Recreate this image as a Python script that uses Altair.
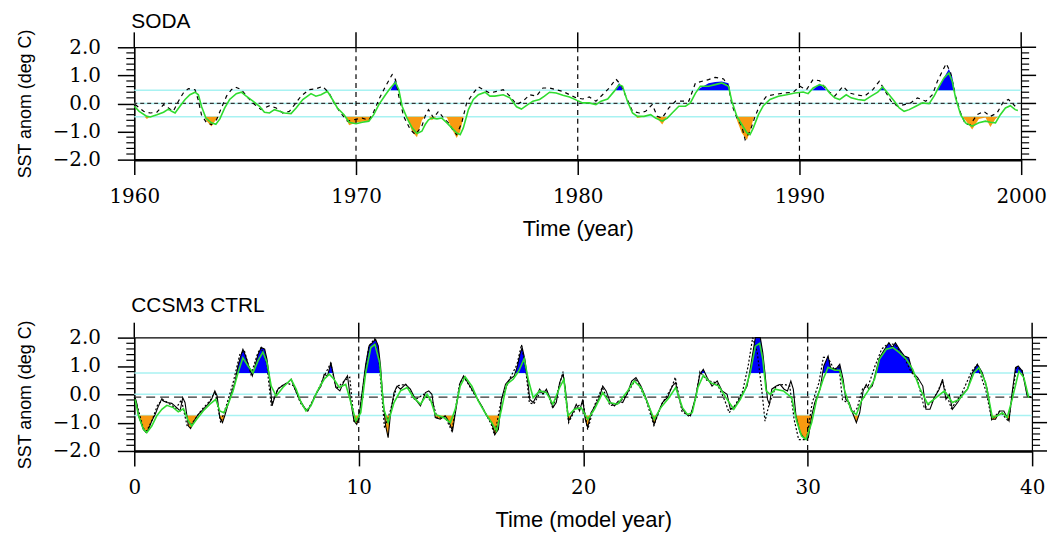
import altair as alt
import pandas as pd

# ---------------- SODA (top panel) ----------------
soda_green = [
    (1960.00, -0.10), (1960.22, -0.28), (1960.57, -0.46), (1960.72, -0.48), (1961.02, -0.40),
    (1961.32, -0.31), (1961.54, -0.20), (1961.69, -0.28), (1961.84, -0.34), (1962.06, -0.10),
    (1962.29, 0.14), (1962.51, 0.31), (1962.74, 0.40), (1962.89, 0.31), (1963.03, -0.10),
    (1963.23, -0.52), (1963.48, -0.69), (1963.68, -0.74), (1963.86, -0.55), (1964.08, -0.16),
    (1964.30, 0.14), (1964.60, 0.35), (1964.83, 0.40), (1965.05, 0.26), (1965.35, 0.08),
    (1965.65, -0.10), (1965.87, -0.31), (1966.10, -0.34), (1966.32, -0.22), (1966.55, -0.28),
    (1966.77, -0.34), (1967.07, -0.36), (1967.30, -0.16), (1967.60, 0.14), (1967.97, 0.35),
    (1968.19, 0.26), (1968.42, 0.31), (1968.71, 0.43), (1968.94, 0.14), (1969.16, -0.16),
    (1969.46, -0.40), (1969.69, -0.67), (1970.00, -0.72), (1970.28, -0.67), (1970.58, -0.63),
    (1970.80, -0.40), (1971.03, -0.04), (1971.33, 0.31), (1971.55, 0.55), (1971.78, 0.75),
    (1971.93, 0.49), (1972.08, -0.10), (1972.30, -0.52), (1972.53, -0.87), (1972.75, -1.07),
    (1972.97, -0.99), (1973.12, -0.75), (1973.27, -0.58), (1973.42, -0.52), (1973.65, -0.55),
    (1973.87, -0.52), (1974.10, -0.69), (1974.32, -0.87), (1974.54, -1.05), (1974.70, -1.11),
    (1974.84, -0.87), (1975.07, -0.22), (1975.29, 0.14), (1975.52, 0.31), (1975.82, 0.40),
    (1976.04, 0.26), (1976.26, 0.26), (1976.64, 0.31), (1976.94, 0.20), (1977.24, -0.12),
    (1977.46, -0.20), (1977.68, -0.08), (1977.98, 0.08), (1978.28, 0.14), (1978.50, 0.26),
    (1978.73, 0.40), (1979.03, 0.37), (1979.33, 0.29), (1979.63, 0.23), (1979.97, 0.11),
    (1980.22, 0.02), (1980.52, 0.02), (1980.82, -0.04), (1981.05, 0.08), (1981.35, 0.16),
    (1981.64, 0.43), (1981.87, 0.67), (1982.02, 0.61), (1982.24, 0.08), (1982.47, -0.34),
    (1982.69, -0.46), (1982.99, -0.46), (1983.29, -0.40), (1983.51, -0.52), (1983.81, -0.63),
    (1984.04, -0.52), (1984.26, -0.34), (1984.56, -0.10), (1984.86, -0.10), (1985.08, 0.02),
    (1985.31, 0.37), (1985.53, 0.61), (1985.90, 0.61), (1986.20, 0.67), (1986.50, 0.73),
    (1986.80, 0.61), (1986.95, 0.08), (1987.18, -0.46), (1987.40, -0.75), (1987.63, -1.05),
    (1987.77, -1.11), (1987.92, -0.87), (1988.15, -0.40), (1988.37, -0.08), (1988.67, 0.14),
    (1989.05, 0.26), (1989.42, 0.31), (1989.79, 0.37), (1990.17, 0.41), (1990.39, 0.35),
    (1990.62, 0.55), (1990.91, 0.67), (1991.14, 0.61), (1991.36, 0.37), (1991.59, 0.20),
    (1991.81, 0.14), (1992.11, 0.31), (1992.33, 0.20), (1992.63, 0.14), (1992.93, 0.11),
    (1993.23, 0.26), (1993.53, 0.40), (1993.75, 0.59), (1993.98, 0.37), (1994.28, 0.08),
    (1994.50, -0.16), (1994.72, -0.28), (1994.95, -0.22), (1995.25, -0.10), (1995.55, 0.02),
    (1995.85, -0.01), (1996.07, 0.26), (1996.30, 0.61), (1996.52, 0.91), (1996.74, 1.09),
    (1996.89, 0.79), (1997.04, 0.20), (1997.27, -0.40), (1997.49, -0.69), (1997.79, -0.81),
    (1998.09, -0.69), (1998.39, -0.63), (1998.61, -0.67), (1998.84, -0.69), (1999.06, -0.40),
    (1999.29, -0.16), (1999.51, -0.08), (1999.73, -0.22), (1999.85, -0.25),
]

soda_raw = [
    (1960.00, -0.10), (1960.22, -0.28), (1960.57, -0.55), (1960.72, -0.45), (1961.02, -0.40),
    (1961.32, -0.31), (1961.54, -0.20), (1961.69, -0.28), (1961.84, -0.34), (1962.06, -0.10),
    (1962.29, 0.14), (1962.51, 0.31), (1962.74, 0.40), (1962.89, 0.31), (1963.03, -0.10),
    (1963.23, -0.60), (1963.48, -0.82), (1963.68, -0.58), (1963.86, -0.45), (1964.08, -0.16),
    (1964.30, 0.14), (1964.60, 0.35), (1964.83, 0.40), (1965.05, 0.26), (1965.35, 0.08),
    (1965.65, -0.10), (1965.87, -0.31), (1966.10, -0.34), (1966.32, -0.22), (1966.55, -0.28),
    (1966.77, -0.34), (1967.07, -0.36), (1967.30, -0.16), (1967.60, 0.14), (1967.97, 0.35),
    (1968.19, 0.26), (1968.42, 0.31), (1968.71, 0.43), (1968.94, 0.14), (1969.16, -0.16),
    (1969.46, -0.40), (1969.69, -0.78), (1970.00, -0.68), (1970.28, -0.65), (1970.58, -0.63),
    (1970.80, -0.40), (1971.03, -0.04), (1971.33, 0.31), (1971.55, 0.45), (1971.78, 0.87),
    (1971.93, 0.45), (1972.08, -0.10), (1972.30, -0.50), (1972.53, -1.00), (1972.75, -1.20),
    (1972.97, -0.60), (1973.12, -0.45), (1973.27, -0.45), (1973.42, -0.60), (1973.65, -0.45),
    (1973.87, -0.45), (1974.10, -0.50), (1974.32, -0.90), (1974.54, -1.23), (1974.70, -1.00),
    (1974.84, -0.50), (1975.07, -0.22), (1975.29, 0.14), (1975.52, 0.31), (1975.82, 0.40),
    (1976.04, 0.26), (1976.26, 0.26), (1976.64, 0.31), (1976.94, 0.20), (1977.24, -0.12),
    (1977.46, -0.20), (1977.68, -0.08), (1977.98, 0.08), (1978.28, 0.14), (1978.50, 0.26),
    (1978.73, 0.40), (1979.03, 0.37), (1979.33, 0.29), (1979.63, 0.23), (1979.97, 0.11),
    (1980.22, 0.02), (1980.52, 0.02), (1980.82, -0.04), (1981.05, 0.08), (1981.35, 0.16),
    (1981.64, 0.43), (1981.87, 0.73), (1982.02, 0.50), (1982.24, 0.08), (1982.47, -0.34),
    (1982.69, -0.52), (1982.99, -0.46), (1983.29, -0.40), (1983.51, -0.45), (1983.81, -0.75),
    (1984.04, -0.45), (1984.26, -0.34), (1984.56, -0.10), (1984.86, -0.10), (1985.08, 0.02),
    (1985.31, 0.37), (1985.53, 0.55), (1985.90, 0.72), (1986.20, 0.76), (1986.50, 0.78),
    (1986.80, 0.72), (1986.95, 0.20), (1987.18, -0.60), (1987.40, -1.05), (1987.63, -1.30),
    (1987.77, -1.00), (1987.92, -0.55), (1988.15, -0.30), (1988.37, -0.08), (1988.67, 0.14),
    (1989.05, 0.26), (1989.42, 0.31), (1989.79, 0.37), (1990.17, 0.41), (1990.39, 0.35),
    (1990.62, 0.50), (1990.91, 0.70), (1991.14, 0.52), (1991.36, 0.37), (1991.59, 0.20),
    (1991.81, 0.14), (1992.11, 0.31), (1992.33, 0.20), (1992.63, 0.14), (1992.93, 0.11),
    (1993.23, 0.26), (1993.53, 0.40), (1993.75, 0.62), (1993.98, 0.37), (1994.28, 0.08),
    (1994.50, -0.16), (1994.72, -0.28), (1994.95, -0.22), (1995.25, -0.10), (1995.55, 0.02),
    (1995.85, -0.01), (1996.07, 0.26), (1996.30, 0.62), (1996.52, 0.92), (1996.74, 1.23),
    (1996.89, 0.95), (1997.04, 0.30), (1997.27, -0.40), (1997.49, -0.60), (1997.79, -0.93),
    (1998.09, -0.55), (1998.39, -0.50), (1998.61, -0.84), (1998.84, -0.55), (1999.06, -0.40),
    (1999.29, -0.16), (1999.51, -0.08), (1999.73, -0.22), (1999.85, -0.25),
]

soda_dotted = [
    (1960.04, -0.04), (1960.42, -0.28), (1960.72, -0.34), (1961.02, -0.31), (1961.32, -0.04),
    (1961.54, -0.16), (1961.76, -0.28), (1961.99, 0.08), (1962.21, 0.37), (1962.44, 0.53),
    (1962.74, 0.49), (1962.88, 0.14), (1963.03, -0.40), (1963.26, -0.69), (1963.48, -0.75),
    (1963.71, -0.58), (1963.93, -0.16), (1964.16, 0.26), (1964.38, 0.49), (1964.57, 0.58),
    (1964.83, 0.49), (1965.13, 0.20), (1965.43, -0.04), (1965.72, -0.22), (1966.10, -0.08),
    (1966.40, -0.16), (1966.70, -0.34), (1967.00, -0.28), (1967.29, 0.02), (1967.52, 0.26),
    (1967.89, 0.49), (1968.19, 0.52), (1968.49, 0.61), (1968.79, 0.37), (1969.01, 0.02),
    (1969.31, -0.34), (1969.61, -0.63), (1969.91, -0.58), (1970.28, -0.52), (1970.58, -0.60),
    (1970.81, -0.28), (1971.03, 0.14), (1971.33, 0.61), (1971.63, 1.03), (1971.78, 0.85),
    (1971.93, 0.26), (1972.15, -0.46), (1972.45, -0.93), (1972.68, -1.11), (1972.97, -0.81),
    (1973.12, -0.45), (1973.27, -0.22), (1973.50, -0.52), (1973.72, -0.28), (1973.95, -0.52),
    (1974.17, -0.69), (1974.40, -0.99), (1974.54, -1.11), (1974.77, -0.69), (1974.99, 0.02),
    (1975.29, 0.37), (1975.52, 0.59), (1975.74, 0.49), (1976.04, 0.37), (1976.34, 0.43),
    (1976.64, 0.49), (1976.94, 0.26), (1977.24, -0.04), (1977.53, 0.08), (1977.83, 0.31),
    (1978.13, 0.26), (1978.43, 0.55), (1978.73, 0.55), (1979.03, 0.49), (1979.33, 0.43),
    (1979.63, 0.31), (1979.93, 0.20), (1980.22, 0.16), (1980.52, 0.23), (1980.82, 0.08),
    (1981.12, 0.31), (1981.42, 0.55), (1981.72, 0.87), (1981.94, 0.67), (1982.17, 0.26),
    (1982.47, -0.28), (1982.77, -0.34), (1983.06, -0.28), (1983.36, -0.04), (1983.59, -0.46),
    (1983.81, -0.52), (1984.11, -0.16), (1984.41, 0.08), (1984.71, 0.08), (1985.01, 0.08),
    (1985.31, 0.73), (1985.61, 0.79), (1985.90, 0.85), (1986.20, 0.93), (1986.58, 0.87),
    (1986.80, 0.61), (1986.95, -0.04), (1987.18, -0.52), (1987.40, -0.81), (1987.55, -1.29),
    (1987.77, -0.99), (1988.00, -0.46), (1988.22, -0.04), (1988.52, 0.26), (1988.82, 0.31),
    (1989.27, 0.37), (1989.72, 0.40), (1990.02, 0.61), (1990.32, 0.49), (1990.61, 0.85),
    (1990.91, 0.81), (1991.21, 0.49), (1991.59, 0.26), (1991.96, 0.61), (1992.26, 0.37),
    (1992.56, 0.31), (1992.93, 0.26), (1993.31, 0.49), (1993.60, 0.79), (1993.83, 0.49),
    (1994.13, 0.08), (1994.43, -0.10), (1994.73, -0.04), (1995.02, 0.02), (1995.32, 0.20),
    (1995.70, 0.08), (1996.00, 0.31), (1996.22, 0.79), (1996.44, 1.14), (1996.62, 1.42),
    (1996.82, 1.09), (1997.04, 0.26), (1997.27, -0.34), (1997.49, -0.75), (1997.71, -0.75),
    (1998.01, -0.40), (1998.31, -0.28), (1998.61, -0.46), (1998.91, -0.34), (1999.21, 0.08),
    (1999.43, 0.14), (1999.73, -0.10),
]

soda_levels = {"hi": 0.47, "lo": -0.47, "zero": 0.0, "mean": 0.0}

# ---------------- CCSM3 CTRL (bottom panel) ----------------
ccsm_black = [
    (0.04, -0.12), (0.12, -0.35), (0.19, -0.76), (0.27, -0.94), (0.41, -1.24), (0.53, -1.35),
    (0.63, -1.24), (0.78, -0.94), (0.93, -0.71), (1.08, -0.41), (1.23, -0.15), (1.30, -0.24),
    (1.45, -0.29), (1.67, -0.32), (1.89, -0.47), (2.04, -0.59), (2.16, -0.12), (2.26, -0.29),
    (2.41, -1.12), (2.51, -1.21), (2.66, -0.94), (2.85, -0.71), (3.07, -0.53), (3.29, -0.35),
    (3.44, -0.18), (3.59, 0.12), (3.69, -0.06), (3.81, -0.82), (3.93, -1.00), (4.03, -0.76),
    (4.18, -0.35), (4.33, 0.06), (4.48, 0.41), (4.62, 1.00), (4.74, 1.35), (4.84, 1.59),
    (4.96, 1.35), (5.07, 1.06), (5.26, 0.65), (5.36, 0.94), (5.51, 1.41), (5.66, 1.65),
    (5.81, 1.59), (5.91, 1.24), (6.03, 0.53), (6.14, -0.41), (6.25, -0.12), (6.40, 0.18),
    (6.62, 0.32), (6.84, 0.41), (6.99, 0.53), (7.13, 0.24), (7.36, -0.18), (7.58, -0.47),
    (7.73, -0.59), (7.92, -0.29), (8.09, 0.00), (8.32, 0.29), (8.46, 0.71), (8.61, 0.65),
    (8.76, 1.12), (8.86, 0.74), (8.98, 0.24), (9.16, 0.12), (9.35, 0.47), (9.50, 0.65),
    (9.65, -0.29), (9.79, -0.94), (9.91, -1.06), (10.01, -0.82), (10.16, 0.12), (10.31, 1.06),
    (10.46, 1.71), (10.61, 1.82), (10.75, 1.94), (10.87, 1.71), (10.97, 1.00), (11.08, -0.18),
    (11.20, -1.12), (11.31, -1.53), (11.42, -0.65), (11.57, 0.06), (11.71, 0.29), (11.86, 0.18),
    (12.08, 0.35), (12.30, 0.18), (12.53, -0.18), (12.75, -0.41), (12.97, 0.06), (13.12, 0.12),
    (13.26, 0.00), (13.41, -0.82), (13.63, -0.88), (13.85, -0.76), (14.00, -0.94), (14.18, -1.29),
    (14.33, -0.53), (14.52, 0.41), (14.67, 0.65), (14.86, 0.41), (15.04, 0.18), (15.26, -0.12),
    (15.48, -0.41), (15.70, -0.76), (15.92, -1.00), (16.07, -1.41), (16.22, -1.24), (16.36, -0.18),
    (16.54, 0.35), (16.73, 0.53), (16.93, 0.65), (17.07, 1.00), (17.18, 1.41), (17.28, 1.65),
    (17.40, 1.24), (17.52, 0.53), (17.62, -0.18), (17.77, -0.29), (17.92, -0.06), (18.06, 0.18),
    (18.21, 0.00), (18.36, 0.18), (18.51, -0.12), (18.65, -0.47), (18.80, -0.29), (18.95, 0.41),
    (19.10, 0.71), (19.20, 0.24), (19.35, -0.94), (19.50, -0.71), (19.69, -0.35), (19.84, -0.59),
    (19.98, -0.18), (20.09, -0.88), (20.20, -1.18), (20.35, -0.65), (20.57, -0.35), (20.72, -0.12),
    (20.87, 0.29), (21.02, 0.12), (21.21, -0.29), (21.39, -0.41), (21.56, -0.24), (21.76, -0.29),
    (21.98, 0.06), (22.16, 0.47), (22.35, 0.59), (22.57, 0.29), (22.79, -0.12), (22.98, -0.53),
    (23.16, -1.06), (23.34, -0.65), (23.53, -0.29), (23.75, -0.12), (23.97, 0.29), (24.12, 0.41),
    (24.22, 0.00), (24.42, -0.53), (24.61, -0.71), (24.78, -0.76), (25.00, -0.12), (25.20, 0.71),
    (25.35, 0.88), (25.52, 0.59), (25.74, 0.29), (25.97, 0.47), (26.19, 0.12), (26.41, 0.00),
    (26.56, -0.53), (26.78, -0.41), (27.00, -0.12), (27.18, 0.12), (27.30, 0.29), (27.44, 0.88),
    (27.56, 1.47), (27.67, 2.00), (27.89, 2.00), (28.00, 1.47), (28.11, 0.65), (28.21, -0.18),
    (28.30, -0.35), (28.40, 0.18), (28.60, 0.29), (28.77, 0.35), (28.95, 0.18), (29.10, 0.12),
    (29.25, 0.47), (29.36, 0.18), (29.48, -0.76), (29.66, -1.35), (29.88, -1.59), (30.03, -1.53),
    (30.18, -0.76), (30.32, -0.29), (30.55, 0.18), (30.72, 1.00), (30.91, 1.35), (31.02, 0.94),
    (31.17, 0.88), (31.31, 0.94), (31.43, 1.06), (31.58, 0.53), (31.70, -0.18), (31.85, -0.29),
    (32.00, -0.65), (32.17, -1.00), (32.32, -0.65), (32.47, 0.12), (32.61, 0.35), (32.73, 0.18),
    (32.88, 0.29), (33.03, 0.76), (33.20, 1.29), (33.43, 1.59), (33.62, 1.82), (33.77, 1.65),
    (33.91, 1.82), (34.09, 1.59), (34.31, 1.35), (34.50, 1.29), (34.68, 0.76), (34.90, 0.59),
    (35.13, 0.29), (35.27, -0.53), (35.45, -0.53), (35.64, -0.12), (35.86, 0.18), (36.01, 0.53),
    (36.16, -0.18), (36.31, 0.00), (36.45, -0.53), (36.68, -0.29), (36.90, 0.00), (37.12, 0.18),
    (37.34, 0.76), (37.56, 1.06), (37.78, 0.76), (38.00, 0.18), (38.20, -0.88), (38.37, -0.88),
    (38.55, -0.59), (38.74, -0.59), (38.97, -0.94), (39.11, 0.06), (39.26, 0.94), (39.38, 1.00),
    (39.56, 0.82), (39.78, -0.06), (39.97, -0.12),
]

ccsm_green = [
    (0.04, -0.18), (0.19, -0.76), (0.41, -1.24), (0.56, -1.35), (0.78, -1.12), (1.00, -0.76),
    (1.23, -0.53), (1.45, -0.39), (1.74, -0.47), (1.96, -0.62), (2.19, -0.51), (2.41, -0.94),
    (2.56, -1.12), (2.78, -0.88), (3.07, -0.59), (3.37, -0.35), (3.63, -0.18), (3.81, -0.59),
    (3.99, -0.65), (4.18, -0.35), (4.40, 0.12), (4.62, 0.76), (4.84, 1.29), (5.07, 1.00),
    (5.29, 0.76), (5.51, 1.18), (5.73, 1.49), (5.91, 1.12), (6.10, 0.29), (6.32, -0.06),
    (6.62, 0.24), (6.99, 0.53), (7.21, 0.18), (7.43, -0.29), (7.65, -0.59), (7.87, -0.41),
    (8.16, 0.12), (8.46, 0.53), (8.69, 0.71), (8.90, 0.53), (9.13, 0.24), (9.42, 0.35),
    (9.65, -0.29), (9.87, -0.94), (10.09, -0.65), (10.31, 0.76), (10.54, 1.65), (10.72, 1.76),
    (10.93, 1.12), (11.12, -0.53), (11.31, -1.00), (11.57, -0.29), (11.86, 0.12), (12.16, 0.24),
    (12.45, -0.12), (12.75, -0.35), (13.04, 0.00), (13.20, -0.20), (13.41, -0.71), (13.78, -0.82),
    (14.08, -1.00), (14.30, -0.53), (14.52, 0.29), (14.74, 0.62), (15.04, 0.29), (15.33, -0.24),
    (15.63, -0.65), (15.92, -1.00), (16.14, -1.29), (16.36, -0.53), (16.59, 0.35), (16.88, 0.53),
    (17.13, 0.82), (17.37, 1.26), (17.55, 0.53), (17.77, -0.12), (18.06, 0.12), (18.36, 0.06),
    (18.65, -0.35), (18.95, 0.24), (19.14, 0.53), (19.32, -0.76), (19.61, -0.53), (19.91, -0.47),
    (20.20, -0.88), (20.50, -0.53), (20.87, 0.06), (21.16, -0.29), (21.53, -0.35), (21.98, 0.12),
    (22.27, 0.47), (22.57, 0.24), (22.86, -0.29), (23.16, -0.88), (23.46, -0.47), (23.82, -0.12),
    (24.12, 0.24), (24.42, -0.47), (24.64, -0.71), (24.86, -0.65), (25.11, 0.24), (25.35, 0.67),
    (25.67, 0.41), (26.04, 0.29), (26.41, -0.18), (26.71, -0.53), (27.00, -0.18), (27.22, 0.18),
    (27.44, 0.76), (27.67, 1.70), (27.86, 1.80), (28.00, 1.24), (28.15, 0.12), (28.33, 0.00),
    (28.55, 0.18), (28.92, 0.12), (29.29, -0.12), (29.51, -0.94), (29.73, -1.47), (29.93, -1.59),
    (30.18, -1.00), (30.40, -0.18), (30.69, 0.53), (30.91, 0.95), (31.21, 0.85), (31.43, 0.85),
    (31.65, 0.12), (31.95, -0.59), (32.17, -0.71), (32.39, -0.24), (32.69, 0.12), (32.98, 0.53),
    (33.20, 1.24), (33.50, 1.59), (33.80, 1.65), (34.09, 1.47), (34.39, 1.24), (34.68, 0.88),
    (34.98, 0.24), (35.35, -0.35), (35.72, -0.12), (36.09, 0.12), (36.45, -0.29), (36.75, -0.18),
    (37.12, 0.18), (37.41, 0.76), (37.63, 0.94), (37.93, 0.41), (38.23, -0.82), (38.45, -0.76),
    (38.67, -0.65), (38.89, -0.82), (39.11, -0.18), (39.41, 0.82), (39.63, 0.59), (39.85, -0.12),
]

ccsm_dotted = [
    (0.00, -0.10), (0.20, -0.60), (0.40, -1.20), (0.55, -1.30), (0.80, -0.90), (1.05, -0.35),
    (1.30, -0.20), (1.50, -0.30), (1.85, -0.50), (2.10, -0.20), (2.35, -1.10), (2.60, -1.00),
    (3.00, -0.55), (3.40, -0.20), (3.60, 0.10), (3.85, -1.00), (4.10, -0.40), (4.40, 0.40),
    (4.70, 1.40), (4.90, 1.55), (5.20, 0.70), (5.50, 1.45), (5.65, 1.65), (5.90, 1.10),
    (6.10, -0.40), (6.40, 0.20), (6.80, 0.40), (7.10, 0.30), (7.40, -0.30), (7.70, -0.60),
    (8.10, 0.00), (8.50, 0.70), (8.75, 1.10), (9.00, 0.20), (9.40, 0.50), (9.60, 0.60),
    (9.80, -1.00), (10.00, -0.90), (10.20, 0.30), (10.45, 1.70), (10.70, 1.95), (10.90, 1.20),
    (11.15, -1.20), (11.40, -0.60), (11.70, 0.30), (12.10, 0.35), (12.50, -0.20), (12.90, 0.00),
    (13.30, -0.30), (13.50, -0.85), (13.85, -0.80), (14.15, -1.30), (14.50, 0.40), (14.70, 0.60),
    (15.00, 0.20), (15.50, -0.45), (15.90, -1.05), (16.05, -1.45), (16.35, -0.20), (16.70, 0.50),
    (17.05, 1.05), (17.25, 1.75), (17.45, 0.80), (17.60, -0.30), (17.80, -0.35), (18.10, 0.10),
    (18.40, 0.10), (18.65, -0.50), (18.95, 0.35), (19.10, 0.80), (19.35, -1.00), (19.70, -0.45),
    (20.00, -0.30), (20.20, -1.25), (20.50, -0.40), (20.85, 0.25), (21.20, -0.40), (21.55, -0.35),
    (21.95, 0.00), (22.35, 0.55), (22.80, -0.20), (23.15, -1.10), (23.50, -0.35), (23.95, 0.25),
    (24.10, 0.60), (24.40, -0.60), (24.75, -0.80), (25.00, -0.20), (25.20, 0.80), (25.50, 0.50),
    (25.95, 0.40), (26.30, -0.20), (26.50, -0.65), (26.80, -0.35), (27.10, 0.10), (27.35, 1.00),
    (27.55, 2.00), (27.75, 1.50), (27.95, 0.20), (28.10, -0.95), (28.30, -0.30), (28.60, 0.30),
    (28.95, 0.35), (29.20, 0.30), (29.40, -0.90), (29.60, -1.60), (29.95, -1.60), (30.20, -0.30),
    (30.50, 0.40), (30.70, 1.30), (30.90, 1.30), (31.20, 0.85), (31.40, 0.95), (31.55, -0.20),
    (31.80, -0.30), (32.00, -0.65), (32.20, -0.50), (32.45, 0.20), (32.70, 0.30), (33.00, 1.00),
    (33.30, 1.60), (33.60, 1.80), (33.90, 1.75), (34.30, 1.30), (34.60, 0.80), (34.90, 0.50),
    (35.20, -0.50), (35.60, -0.20), (36.00, 0.45), (36.40, -0.50), (36.85, 0.00), (37.30, 0.80),
    (37.55, 1.05), (37.95, 0.10), (38.20, -0.90), (38.55, -0.60), (38.95, -0.95), (39.30, 0.95),
    (39.55, 0.85), (39.80, -0.05), (40.00, -0.12),
]

ccsm_levels = {"hi": 0.75, "lo": -0.75, "zero": 0.0, "mean": -0.10}

# axis tick values / labels
soda_xticks = [1960, 1970, 1980, 1990, 2000]
ccsm_xticks = [0, 10, 20, 30, 40]
y_major = [-2.0, -1.0, 0.0, 1.0, 2.0]
y_minor = [-1.8, -1.6, -1.4, -1.2, -0.8, -0.6, -0.4, -0.2,
           0.2, 0.4, 0.6, 0.8, 1.2, 1.4, 1.6, 1.8]

SANS = "Liberation Sans"
SERIF = "DejaVu Serif"
CYAN = "#a8f2f2"
GREEN = "#2fdc2f"
BLUE = "#0000ff"
ORANGE = "#f99a10"


def to_df(pairs):
    return pd.DataFrame(pairs, columns=["t", "v"])


def fill_df(pairs, thr, above):
    rows = []
    for i, (t, v) in enumerate(pairs):
        if i > 0:
            t0, v0 = pairs[i - 1]
            a, b = v0 - thr, v - thr
            if a * b < 0:
                rows.append((t0 + (t - t0) * a / (a - b), thr))
        inside = v > thr if above else v < thr
        rows.append((t, v if inside else thr))
    df = pd.DataFrame(rows, columns=["t", "v"])
    df["thr"] = thr
    return df


def panel(title, xdom, xticks, xtitle, width, height, green, raw, dotted,
          levels, dot_dash, mean_dash, title_offset, black=None):
    xscale = alt.Scale(domain=xdom, nice=False, zero=False)
    yscale = alt.Scale(domain=[-2, 2], nice=False, zero=False)
    xaxis = alt.Axis(values=xticks, format="d", grid=False, tickSize=15, tickWidth=1.5,
                     tickColor="black", domainColor="black", domainWidth=2.5,
                     labelFont=SERIF, labelFontSize=20, labelColor="black", labelPadding=12,
                     labelFlush=False, labelOverlap=False, title=xtitle, titleFont=SANS,
                     titleFontSize=22, titleFontWeight="normal", titleColor="black",
                     titlePadding=12)
    yaxis = alt.Axis(values=y_major, grid=False, tickSize=17, tickWidth=1.5,
                     tickColor="black", domainColor="black", domainWidth=1.5,
                     labelFont=SERIF, labelFontSize=20, labelColor="black", labelPadding=17,
                     labelFlush=False, labelOverlap=False, labelBound=False,
                     labelExpr="datum.value < 0 ? '\u2212' + format(-datum.value, '.1f') : format(datum.value, '.1f')",
                     title="SST anom (deg C)", titleFont=SANS, titleFontSize=18,
                     titleFontWeight="normal", titleColor="black", titlePadding=18)

    def X(f="t"):
        return alt.X(f"{f}:Q", scale=xscale, axis=xaxis)

    def Y(f="v"):
        return alt.Y(f"{f}:Q", scale=yscale, axis=yaxis)

    layers = []
    cy = pd.DataFrame({"v": [levels["hi"], levels["zero"], levels["lo"]]})
    layers.append(alt.Chart(cy).mark_rule(color=CYAN, strokeWidth=1.5).encode(y=Y()))
    layers.append(alt.Chart(fill_df(raw, levels["hi"], True)).mark_area(color=BLUE, opacity=1)
                  .encode(x=X(), y=Y(), y2="thr:Q"))
    layers.append(alt.Chart(fill_df(raw, levels["lo"], False)).mark_area(color=ORANGE, opacity=1)
                  .encode(x=X(), y=Y(), y2="thr:Q"))
    mean = pd.DataFrame({"v": [levels["mean"]]})
    layers.append(alt.Chart(mean).mark_rule(color="#333333", strokeWidth=1.3, strokeDash=mean_dash)
                  .encode(y=Y()))
    dec = pd.DataFrame({"t": xticks[1:-1]})
    layers.append(alt.Chart(dec).mark_rule(color="black", strokeWidth=1.2, strokeDash=[5, 4])
                  .encode(x=X()))
    layers.append(alt.Chart(to_df(dotted)).mark_line(color="black", strokeWidth=1.2,
                                                     strokeDash=dot_dash)
                  .encode(x=X(), y=Y()))
    if black is not None:
        layers.append(alt.Chart(to_df(black)).mark_line(color="black", strokeWidth=1.1)
                      .encode(x=X(), y=Y()))
    layers.append(alt.Chart(to_df(green)).mark_line(color=GREEN, strokeWidth=1.6)
                  .encode(x=X(), y=Y()))
    # minor / mirrored ticks
    mn = pd.DataFrame({"v": y_minor})
    mj = pd.DataFrame({"v": y_major})
    layers.append(alt.Chart(mn).mark_rule(color="black", strokeWidth=1.2)
                  .encode(y=Y(), x=alt.value(-8), x2=alt.value(0)))
    layers.append(alt.Chart(mn).mark_rule(color="black", strokeWidth=1.2)
                  .encode(y=Y(), x=alt.value(width), x2=alt.value(width + 8)))
    layers.append(alt.Chart(mj).mark_rule(color="black", strokeWidth=1.5)
                  .encode(y=Y(), x=alt.value(width), x2=alt.value(width + 15)))
    xt = pd.DataFrame({"t": xticks})
    layers.append(alt.Chart(xt).mark_rule(color="black", strokeWidth=1.5)
                  .encode(x=X(), y=alt.value(-15), y2=alt.value(0)))

    return alt.layer(*layers).properties(
        width=width, height=height,
        title=alt.TitleParams(text=title, anchor="start", frame="group", font=SANS,
                              fontSize=21, fontWeight="normal", color="black",
                              offset=title_offset, dx=-3),
    )


top = panel("SODA", [1960, 2000], soda_xticks, "Time (year)", 892, 113,
            soda_green, soda_raw, soda_dotted, soda_levels, [4, 4], [4, 3], -3)
bottom = panel("CCSM3 CTRL", [0, 40], ccsm_xticks, "Time (model year)", 903, 114,
               ccsm_green, ccsm_black, ccsm_dotted, ccsm_levels, [2, 2], [9, 5], 4,
               black=ccsm_black)

chart = alt.vconcat(top, bottom, spacing=54).properties(
    padding={"left": 7, "top": 0, "right": 5, "bottom": 0},
    background="white",
).configure_view(stroke="black", strokeWidth=1.2)

chart.save("out.html", embed_options={"renderer": "svg", "actions": False})
